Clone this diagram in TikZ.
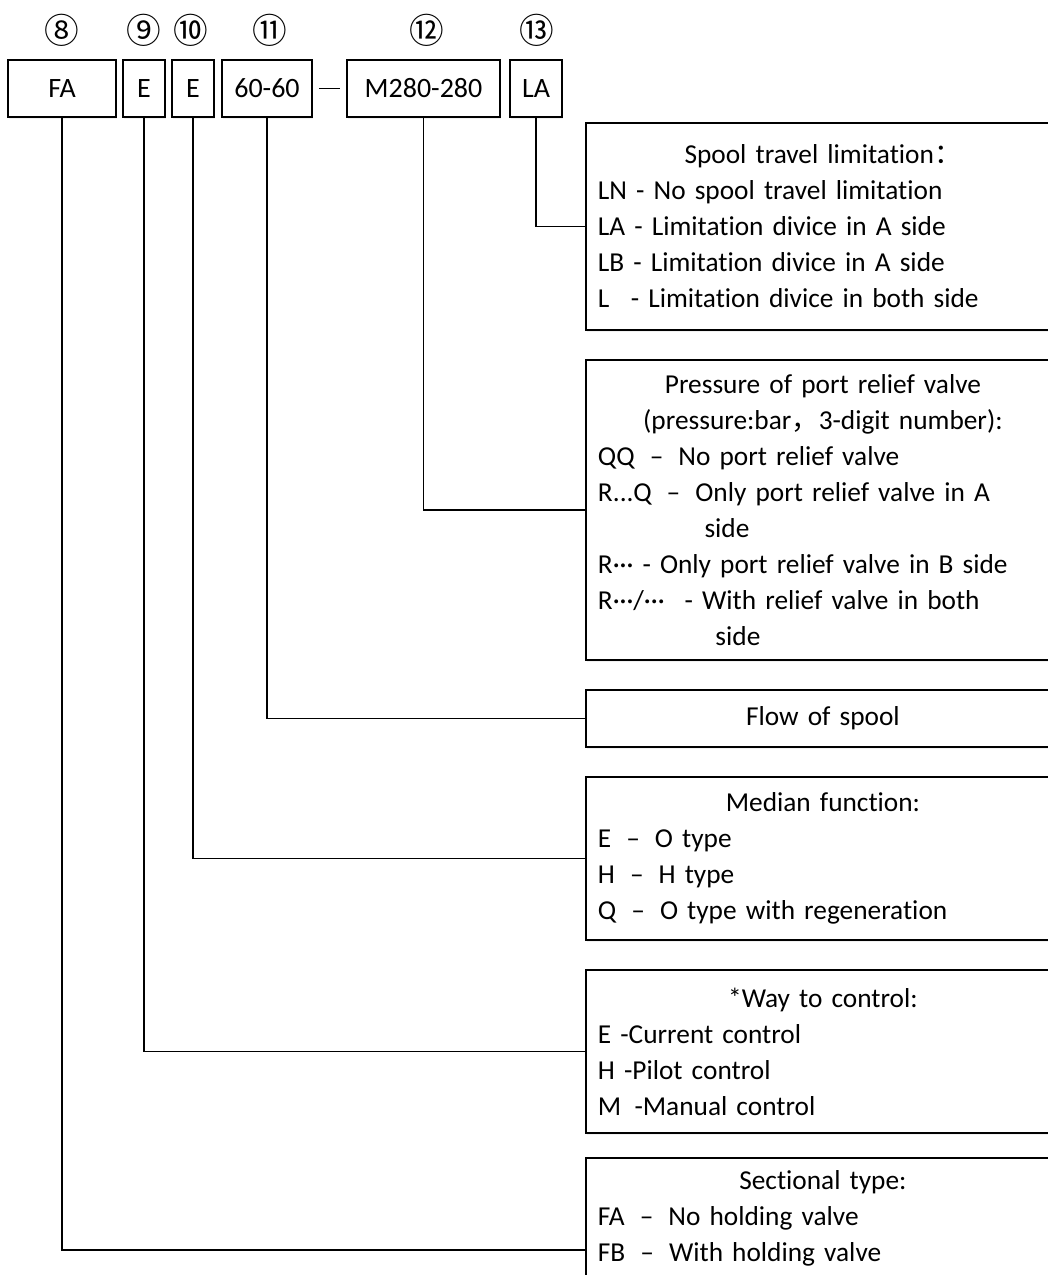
\documentclass[tikz,border=0pt]{standalone}
\usepackage{fontspec}
\setmainfont{Carlito}[Ligatures=NoCommon]
\newfontfamily\cjk{Noto Sans CJK SC}
\usetikzlibrary{calc,shadows}
\tikzset{
  codebox/.style={draw, line width=1.4pt, fill=white, minimum height=42.75pt, inner sep=0pt,
    drop shadow={opacity=0.12, shadow xshift=1pt, shadow yshift=-1.5pt}, font=\fontsize{21}{24}\selectfont},
  infobox/.style={draw, line width=1.4pt, fill=white, anchor=west, minimum width=355.5pt, text width=337.5pt,
    inner sep=9pt, align=left, drop shadow={opacity=0.12, shadow xshift=1pt, shadow yshift=-1.5pt},
    font=\fontsize{20.5}{27}\selectfont},
  idx/.style={inner sep=0pt, font=\cjk\fontsize{26}{26}\selectfont},
  link/.style={line width=1.4pt}
}
\newcommand{\ttl}[1]{\makebox[\hsize]{#1}\\}
\newcommand{\dsh}{\hspace{0.55em}–\hspace{0.55em}}

\begin{document}
\begin{tikzpicture}[x=0.75pt,y=-0.75pt]
  \useasboundingbox (0,0) rectangle (1048,1275);
  % code boxes
  \node[codebox, minimum width=81pt] (fa) at (62,88.5) {FA};
  \node[codebox, minimum width=31.5pt] (ctl) at (144,88.5) {E};
  \node[codebox, minimum width=31.5pt] (med) at (193,88.5) {E};
  \node[codebox, minimum width=67.5pt] (flow) at (267,88.5) {60-60};
  \node[codebox, minimum width=114.75pt] (prs) at (423.5,88.5) {M280-280};
  \node[codebox, minimum width=39pt] (lim) at (536,88.5) {LA};
  \draw[link, shorten <=4.5pt, shorten >=4.5pt] (flow) -- (prs);
  % position numbers
  \node[idx] (n8) at (62,30) {⑧};
  \node[idx] (n9) at (144,30) {⑨};
  \node[idx] (n10) at (191,30) {⑩};
  \node[idx] (n11) at (270,30) {⑪};
  \node[idx] (n12) at (427,30) {⑫};
  \node[idx] (n13) at (537,30) {⑬};
  % description boxes
  \node[infobox, minimum height=155.25pt] (limd) at (585,226.5) {%
    \ttl{Spool travel limitation{\cjk ：}}
    LN - No spool travel limitation\\
    LA - Limitation divice in A side\\
    LB - Limitation divice in A side\\
    L\hspace{0.45em} - Limitation divice in both side};
  \node[infobox, minimum height=225pt] (prsd) at (585,510) {%
    \ttl{Pressure of port relief valve}
    \ttl{(pressure:bar{\cjk ，}3-digit number):}
    QQ\dsh No port relief valve\\
    R...Q\dsh Only port relief valve in A\\
    \hspace{3.9em}side\\
    R··· - Only port relief valve in B side\\
    R···/···\hspace{0.4em} - With relief valve in both\\
    \hspace{4.3em}side};
  \node[infobox, minimum height=42.75pt] (flowd) at (585,718.5) {%
    \ttl{Flow of spool}};
  \node[infobox, minimum height=122.25pt] (medd) at (585,858.5) {%
    \ttl{Median function:}
    E\dsh O type\\
    H\dsh H type\\
    Q\dsh O type with regeneration};
  \node[infobox, minimum height=122.25pt] (ctld) at (585,1051.5) {%
    \ttl{*Way to control:}
    E -Current control\\
    H -Pilot control\\
    M\hspace{0.15em} -Manual control};
  \node[infobox, minimum height=82.5pt] (fad) at (585,1218) {%
    \ttl{Sectional type:}
    FA\dsh No holding valve\\
    FB\dsh With holding valve};
  % leaders
  \draw[link] (lim.south) |- (limd.west);
  \draw[link] (prs.south) |- (prsd.west);
  \draw[link] (flow.south) |- (flowd.west);
  \draw[link] (med.south) |- (medd.west);
  \draw[link] (ctl.south) |- (ctld.west);
  \draw[link] (fa.south) |- ($(fad.west)+(0,32)$);
\end{tikzpicture}
\end{document}
